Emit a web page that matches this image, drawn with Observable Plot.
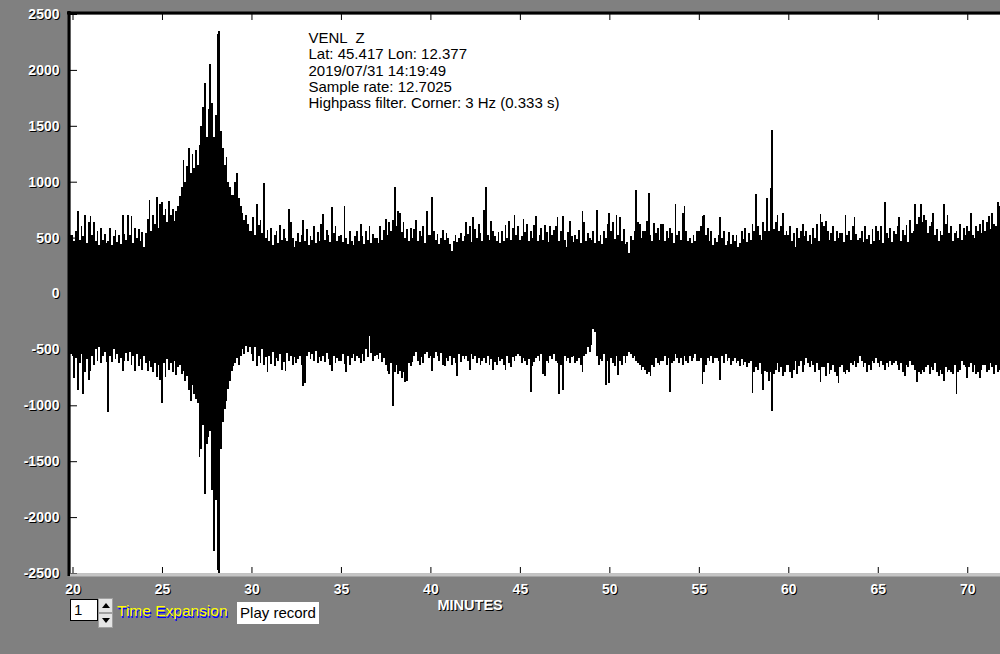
<!DOCTYPE html>
<html><head><meta charset="utf-8">
<script src="https://cdn.jsdelivr.net/npm/d3@7"></script>
<script src="https://cdn.jsdelivr.net/npm/@observablehq/plot@0.6"></script>
<style>
html,body{margin:0;padding:0;background:#808080;overflow:hidden;}
#wrap{position:relative;width:1000px;height:654px;font-family:"Liberation Sans",Arial,sans-serif;}
#wrap svg{display:block;}
.ctl{position:absolute;box-sizing:border-box;}
#num{left:70px;top:599px;width:28px;height:22px;background:#fff;border:1px solid #000;font-size:15px;line-height:20px;padding-left:3px;color:#000;}
.spin{left:98px;width:15px;height:15px;background:#e4e4e4;border:1px solid #a0a0a0;}
.spin svg{position:absolute;left:3px;top:4px;}
#te{left:117px;top:602px;font-size:15.5px;color:#ffff00;text-shadow:1px 2px 0 #0000ff;white-space:nowrap;}
#play{left:237px;top:602px;width:82px;height:22px;background:#fff;font-size:15px;line-height:22px;text-align:center;color:#000;white-space:nowrap;}
</style></head><body><div id="wrap"></div>
<script>
// sample times: t0 + i*step (minutes); per-column max / min of the trace
const t0 = 19.8, step = 0.1;
const upper = [
550, 520,
520, 470, 560, 740, 480, 600, 510, 700, 450, 640,
690, 520, 640, 470, 560, 430, 590, 480, 530, 450,
470, 590, 430, 510, 570, 460, 520, 440, 700, 530,
480, 700, 520, 690, 450, 590, 500, 580, 470, 550,
420, 540, 670, 835, 560, 700, 620, 860, 590, 800,
820, 700, 760, 640, 830, 700, 760, 650, 740, 780,
870, 950, 1190, 1000, 1140, 1300, 1080, 1250, 1120, 1280,
1150, 1330, 1500, 1670, 1880, 1400, 1650, 2050, 1700, 1400,
1600, 2320, 2350, 1450, 1300, 1150, 1220, 1000, 950, 880,
880, 1000, 1075, 850, 780, 720, 660, 700, 620, 560,
560, 680, 520, 800, 610, 660, 540, 990, 500, 570,
470, 590, 430, 520, 560, 450, 610, 480, 580, 500,
470, 760, 640, 500, 420, 470, 540, 460, 520, 660,
470, 580, 430, 510, 480, 600, 450, 550, 470, 620,
710, 480, 570, 520, 460, 770, 540, 600, 470, 510,
520, 460, 780, 500, 440, 560, 470, 430, 510, 560,
470, 620, 510, 440, 560, 480, 600, 450, 530, 500,
500, 450, 600, 480, 570, 670, 520, 640, 560, 660,
950, 600, 740, 720, 550, 640, 500, 580, 470, 590,
500, 580, 660, 470, 560, 510, 600, 450, 740, 520,
520, 860, 560, 480, 530, 440, 500, 570, 480, 540,
500, 440, 380, 470, 520, 460, 500, 540, 470, 510,
640, 530, 600, 460, 680, 580, 500, 620, 540, 470,
750, 950, 520, 480, 650, 560, 510, 470, 550, 450,
560, 470, 610, 500, 650, 480, 590, 700, 520, 600,
480, 510, 670, 550, 620, 470, 560, 500, 610, 690,
470, 520, 590, 480, 610, 550, 460, 600, 520, 570,
600, 680, 470, 560, 690, 480, 420, 550, 650, 510,
460, 520, 490, 570, 450, 740, 640, 470, 540, 500,
480, 560, 450, 750, 470, 520, 440, 560, 500, 620,
720, 560, 640, 490, 700, 520, 680, 470, 580, 440,
460, 360, 510, 480, 560, 930, 640, 620, 500, 560,
560, 650, 900, 520, 470, 630, 540, 590, 480, 620,
620, 470, 560, 500, 590, 540, 450, 800, 520, 560,
480, 720, 780, 560, 470, 500, 450, 520, 470, 560,
560, 600, 690, 700, 520, 590, 470, 560, 430, 500,
460, 520, 680, 500, 560, 430, 470, 550, 440, 520,
470, 520, 420, 450, 560, 490, 590, 460, 540, 480,
620, 560, 890, 600, 520, 480, 640, 560, 850, 560,
940, 1460, 580, 640, 700, 560, 600, 720, 520, 560,
520, 600, 470, 540, 420, 590, 500, 560, 620, 510,
560, 470, 520, 440, 590, 500, 620, 470, 710, 640,
600, 650, 560, 480, 540, 600, 470, 560, 500, 540,
540, 460, 700, 520, 560, 480, 600, 680, 530, 480,
500, 560, 460, 600, 490, 520, 440, 580, 470, 600,
560, 480, 600, 450, 820, 540, 500, 590, 460, 560,
530, 600, 680, 470, 570, 520, 610, 460, 660, 540,
560, 800, 620, 680, 800, 640, 700, 660, 540, 600,
640, 720, 520, 580, 470, 560, 520, 800, 620, 700,
540, 600, 470, 540, 560, 500, 620, 480, 590, 520,
600, 560, 720, 520, 500, 600, 560, 620, 540, 660,
560, 640, 690, 580, 720, 620, 600, 820, 780
];
const lower = [
-550, -540,
-560, -760, -580, -860, -620, -540, -900, -700, -590, -770,
-690, -560, -640, -500, -600, -480, -620, -560, -520, -610,
-1060, -560, -610, -500, -590, -540, -620, -580, -690, -600,
-530, -600, -520, -640, -560, -690, -540, -650, -590, -680,
-560, -620, -690, -600, -660, -700, -620, -745, -640, -770,
-980, -620, -750, -590, -680, -620, -700, -600, -730, -660,
-640, -720, -690, -780, -740, -860, -960, -820, -900, -940,
-980, -1460, -1390, -1180, -1790, -1350, -1280, -1230, -1760, -2300,
-1850, -2470, -2500, -1390, -1150, -1030, -960, -850, -780, -690,
-650, -620, -580, -640, -560, -500, -540, -470, -520, -480,
-540, -600, -480, -650, -560, -620, -500, -640, -570, -700,
-560, -630, -520, -650, -580, -600, -540, -680, -610, -690,
-530, -600, -560, -640, -570, -620, -590, -560, -640, -830,
-800, -560, -520, -590, -540, -600, -510, -620, -570, -600,
-560, -610, -530, -590, -640, -690, -560, -620, -580, -600,
-600, -540, -630, -700, -560, -640, -580, -540, -600, -560,
-580, -620, -540, -600, -500, -570, -380, -530, -600, -560,
-550, -590, -530, -610, -580, -640, -690, -720, -620, -1010,
-700, -640, -720, -690, -760, -700, -790, -780, -620, -650,
-610, -560, -520, -600, -640, -570, -620, -540, -520, -580,
-560, -690, -580, -520, -560, -600, -530, -640, -650, -580,
-600, -560, -640, -580, -620, -740, -540, -610, -560, -590,
-560, -600, -680, -540, -590, -560, -620, -580, -640, -600,
-580, -620, -560, -640, -590, -680, -610, -640, -570, -600,
-590, -640, -680, -560, -620, -660, -570, -600, -560, -540,
-560, -620, -580, -600, -640, -590, -880, -650, -610, -580,
-560, -600, -540, -720, -740, -600, -620, -560, -590, -540,
-600, -620, -900, -640, -860, -560, -600, -580, -620, -570,
-560, -620, -600, -580, -640, -700, -560, -540, -480, -520,
-460, -320, -340, -560, -640, -590, -600, -540, -820, -600,
-800, -580, -620, -650, -560, -730, -600, -640, -560, -620,
-560, -520, -540, -580, -560, -600, -620, -640, -680, -660,
-680, -720, -700, -740, -640, -660, -580, -620, -640, -600,
-600, -560, -640, -580, -880, -620, -600, -540, -580, -620,
-580, -640, -560, -600, -620, -560, -600, -580, -540, -600,
-600, -580, -810, -700, -640, -580, -600, -560, -620, -580,
-580, -600, -770, -560, -620, -540, -600, -580, -640, -600,
-580, -620, -600, -650, -590, -640, -610, -660, -620, -600,
-890, -700, -660, -680, -620, -720, -860, -690, -700, -780,
-700, -1050, -720, -680, -620, -700, -660, -740, -700, -640,
-640, -700, -760, -680, -600, -720, -650, -600, -700, -640,
-580, -620, -660, -600, -640, -700, -620, -680, -790, -660,
-660, -740, -620, -720, -680, -640, -700, -740, -800, -660,
-640, -700, -720, -680, -700, -620, -640, -600, -660, -620,
-560, -600, -660, -620, -700, -640, -680, -600, -620, -580,
-620, -660, -600, -640, -680, -620, -660, -600, -640, -620,
-600, -640, -680, -620, -700, -740, -640, -660, -600, -640,
-640, -680, -790, -700, -720, -680, -700, -660, -640, -720,
-660, -680, -620, -700, -740, -680, -720, -780, -660, -700,
-680, -700, -720, -640, -900, -700, -680, -600, -640, -660,
-760, -660, -620, -700, -640, -720, -700, -760, -680, -640,
-640, -700, -680, -620, -660, -720, -640, -700, -680
];
const yTicks = [2500, 2000, 1500, 1000, 500, 0, -500, -1000, -1500, -2000, -2500];
const xTicks = [20, 25, 30, 35, 40, 45, 50, 55, 60, 65, 70];
const xDomain = [19.86, 71.83];
const yDomain = [-2500, 2500];
const xLabel = "MINUTES";
const info = ["VENL  Z", "Lat: 45.417 Lon: 12.377", "2019/07/31 14:19:49", "Sample rate: 12.7025", "Highpass filter. Corner: 3 Hz (0.333 s)"];

const trace = upper.map((u, i) => ({t: t0 + i * step, u, l: lower[i]}));

const W = 1000, H = 654, mL = 70, mR = 0, mT = 14, mB = 81;
const innerW = W - mL - mR, innerH = H - mT - mB;

const chart = Plot.plot({
  width: W, height: H,
  marginLeft: mL, marginRight: mR, marginTop: mT, marginBottom: mB,
  x: {domain: xDomain, axis: null},
  y: {domain: yDomain, axis: null},
  style: {background: "#808080", fontFamily: "'Liberation Sans', Arial, sans-serif", overflow: "visible"},
  marks: [
    Plot.frame({fill: "white", stroke: "none"}),
    Plot.rect(trace, {x1: d => d.t - step / 2, x2: d => d.t + step / 2, y1: "l", y2: "u", fill: "black", shapeRendering: "crispEdges", clip: true}),
    // ticks inside frame
    Plot.tickX(xTicks, {x: d => d, insetBottom: innerH - 6, stroke: "black"}),
    Plot.tickX(xTicks, {x: d => d, insetTop: innerH - 6, stroke: "black"}),
    Plot.tickY(yTicks, {y: d => d, insetRight: innerW - 7, stroke: "black"}),
    // borders
    Plot.ruleY([yDomain[1]], {stroke: "black", strokeWidth: 3, dy: -1.5, insetLeft: -3}),
    Plot.ruleX([xDomain[0]], {stroke: "black", strokeWidth: 3, dx: -1.5, insetTop: -3, insetBottom: -3}),
    Plot.ruleY([yDomain[0]], {stroke: "#c4c4c4", strokeWidth: 3, dy: 1.5}),
    // y tick labels with shadow
    Plot.text(yTicks, {y: d => d, text: d => String(d), frameAnchor: "left", dx: -10, dy: 1, textAnchor: "end", fill: "black", fontSize: 14, fontWeight: "bold"}),
    Plot.text(yTicks, {y: d => d, text: d => String(d), frameAnchor: "left", dx: -11, textAnchor: "end", fill: "white", fontSize: 14, fontWeight: "bold"}),
    // x tick labels with shadow
    Plot.text(xTicks, {x: d => d, text: d => String(d), frameAnchor: "bottom", dx: 1, dy: 21, fill: "black", fontSize: 14, fontWeight: "bold"}),
    Plot.text(xTicks, {x: d => d, text: d => String(d), frameAnchor: "bottom", dy: 20, fill: "white", fontSize: 14, fontWeight: "bold"}),
    Plot.text([xLabel], {frameAnchor: "bottom-left", dx: 367 + 1, dy: 37, text: d => d, textAnchor: "start", fill: "black", fontSize: 14.5, fontWeight: "bold"}),
    Plot.text([xLabel], {frameAnchor: "bottom-left", dx: 367, dy: 36, text: d => d, textAnchor: "start", fill: "white", fontSize: 14.5, fontWeight: "bold"}),
    // station info
    Plot.text([info.join("\n")], {frameAnchor: "top-left", dx: 238, dy: 17, text: d => d, textAnchor: "start", lineAnchor: "top", lineHeight: 16.25 / 15, fill: "black", fontSize: 15})
  ]
});

const wrap = document.getElementById("wrap");
wrap.appendChild(chart);

const arrow = up => `<svg width="8" height="5" viewBox="0 0 8 5"><path d="${up ? "M0 5 L4 0 L8 5 Z" : "M0 0 L4 5 L8 0 Z"}" fill="#000"/></svg>`;
wrap.insertAdjacentHTML("beforeend", `
  <div class="ctl" id="num">1</div>
  <div class="ctl spin" style="top:598px">${arrow(true)}</div>
  <div class="ctl spin" style="top:613px">${arrow(false)}</div>
  <div class="ctl" id="te">Time Expansion</div>
  <div class="ctl" id="play">Play record</div>
`);
</script>
</body></html>
